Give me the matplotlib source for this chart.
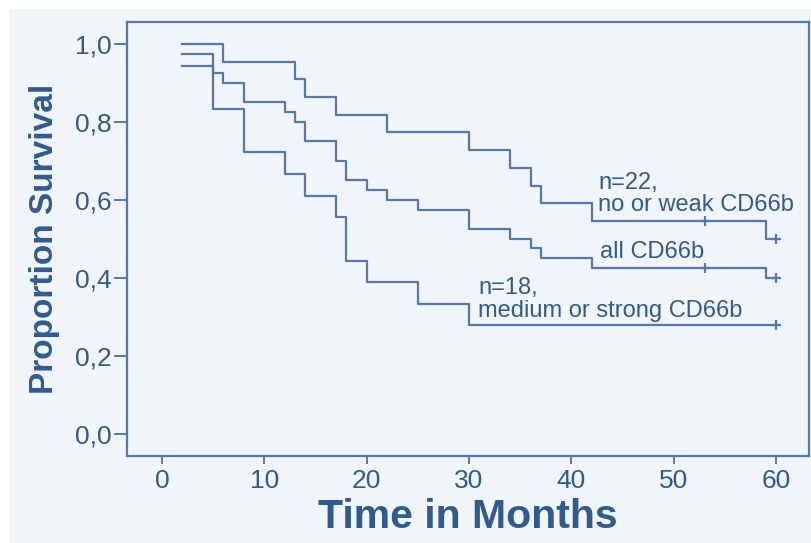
import matplotlib
matplotlib.use("Agg")
import matplotlib.pyplot as plt
from matplotlib.patches import Rectangle

# Kaplan-Meier step curves (time in months, survival proportion)
t_weak = [2, 6, 13, 14, 17, 22, 30, 34, 36, 37, 42, 59, 60]
s_weak = [1.0, 0.955, 0.909, 0.864, 0.818, 0.773, 0.727, 0.682, 0.636, 0.591, 0.545, 0.5, 0.5]
cens_weak_t = [53, 60]
cens_weak_s = [0.545, 0.5]

t_all = [2, 5, 6, 8, 12, 13, 14, 17, 18, 20, 22, 25, 30, 34, 36, 37, 42, 59, 60]
s_all = [0.975, 0.925, 0.9, 0.85, 0.825, 0.8, 0.75, 0.7, 0.65, 0.625, 0.6, 0.575,
         0.525, 0.5, 0.475, 0.45, 0.425, 0.4, 0.4]
cens_all_t = [53, 60]
cens_all_s = [0.425, 0.4]

t_strong = [2, 5, 8, 12, 14, 17, 18, 20, 25, 30, 60]
s_strong = [0.944, 0.833, 0.722, 0.667, 0.611, 0.556, 0.444, 0.389, 0.333, 0.278, 0.278]
cens_strong_t = [60]
cens_strong_s = [0.278]

x_ticks = [0, 10, 20, 30, 40, 50, 60]
y_ticks = [0.0, 0.2, 0.4, 0.6, 0.8, 1.0]
y_ticklabels = ["0,0", "0,2", "0,4", "0,6", "0,8", "1,0"]

line_col = "#5479ae"
text_col = "#2f5b8e"
bg = "#f1f4f8"

plt.rcParams["font.family"] = ["Liberation Sans", "DejaVu Sans"]

fig = plt.figure(figsize=(8.11, 5.43), dpi=100, facecolor="white")
# light panel behind everything, thin white strip on top and left
fig.patches.append(Rectangle((9 / 811, 0), 1, 1 - 9 / 543, transform=fig.transFigure,
                             facecolor=bg, edgecolor="none", zorder=-10))

ax = fig.add_axes([0.1562, 0.1611, 0.8413, 0.7984])
ax.set_facecolor(bg)

for t, s in [(t_weak, s_weak), (t_all, s_all), (t_strong, s_strong)]:
    ax.step(t, s, where="post", color=line_col, lw=1.6)
for t, s in [(cens_weak_t, cens_weak_s), (cens_all_t, cens_all_s), (cens_strong_t, cens_strong_s)]:
    ax.plot(t, s, "+", color=line_col, ms=7, mew=1.6)

ax.set_xlim(-3.45, 63.2)
ax.set_ylim(-0.0565, 1.0565)
ax.set_xticks(x_ticks)
ax.set_yticks(y_ticks)
ax.set_yticklabels(y_ticklabels)

for sp in ax.spines.values():
    sp.set_color(line_col)
    sp.set_linewidth(1.6)
ax.tick_params(axis="y", length=9.5, width=1.4, pad=1, colors=line_col, labelcolor=text_col, labelsize=19)
ax.tick_params(axis="x", length=6, width=1.4, pad=4, colors=line_col, labelcolor=text_col, labelsize=19)

ax.set_ylabel("Proportion Survival", fontsize=24, fontweight="bold", color=text_col)
ax.yaxis.set_label_coords(-0.0978, 0.5)
ax.set_xlabel("Time in Months", fontsize=29.5, fontweight="bold", color=text_col)
ax.xaxis.set_label_coords(0.5, -0.098)

fs = 17
ax.text(42.6, 0.643, "n=22,", fontsize=fs, color=text_col, va="center")
ax.text(42.6, 0.587, "no or weak CD66b", fontsize=fs, color=text_col, va="center")
ax.text(42.8, 0.466, "all CD66b", fontsize=fs, color=text_col, va="center")
ax.text(30.9, 0.373, "n=18,", fontsize=fs, color=text_col, va="center")
ax.text(30.9, 0.315, "medium or strong CD66b", fontsize=fs, color=text_col, va="center")

fig.savefig("out.png", dpi=100, facecolor=fig.get_facecolor())
